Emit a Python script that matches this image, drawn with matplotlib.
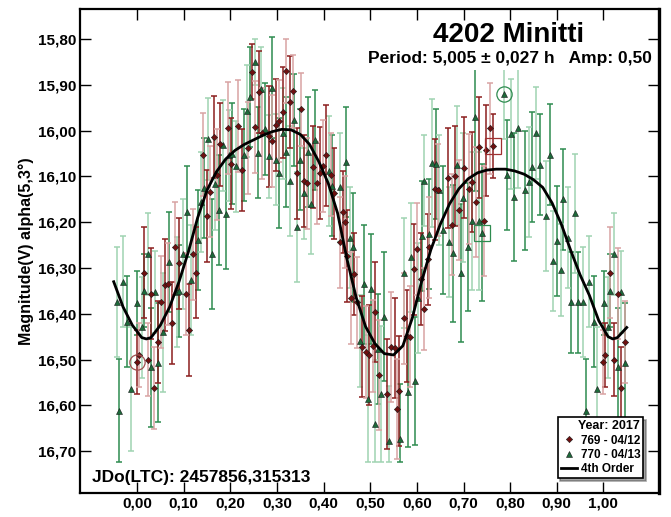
import matplotlib
matplotlib.use("Agg")
import matplotlib.pyplot as plt
import numpy as np
from matplotlib.lines import Line2D

plt.rcParams['font.family'] = ['Liberation Sans', 'DejaVu Sans']
plt.rcParams['font.weight'] = 'bold'

# session 769 - 04/12 (phase, magnitude, error)
red_phase = [0.000, 0.004, 0.015, 0.023, 0.031, 0.037, 0.046, 0.051, 0.059, 0.067,
             0.074, 0.081, 0.091, 0.105, 0.112, 0.121, 0.127, 0.142, 0.149, 0.156,
             0.164, 0.171, 0.178, 0.194, 0.202, 0.217, 0.224, 0.239, 0.246, 0.253,
             0.262, 0.267, 0.283, 0.290, 0.298, 0.305, 0.312, 0.320, 0.327, 0.335,
             0.342, 0.352, 0.357, 0.365, 0.378, 0.386, 0.392, 0.398, 0.406, 0.415,
             0.423, 0.435, 0.442, 0.446, 0.450, 0.459, 0.466, 0.471, 0.483, 0.490,
             0.498, 0.507, 0.510, 0.519, 0.535, 0.544, 0.553, 0.558, 0.562, 0.572,
             0.579, 0.585, 0.593, 0.600, 0.608, 0.615, 0.623, 0.627, 0.638, 0.645,
             0.666, 0.675, 0.682, 0.690, 0.702, 0.712, 0.718, 0.726, 0.733, 0.743,
             0.748, 0.756, 0.764]
red_mag = [16.506, 16.490, 16.310, 16.500, 16.356, 16.562, 16.462, 16.374, 16.337, 16.335,
           16.420, 16.255, 16.290, 16.357, 16.435, 16.270, 16.310, 16.052, 16.186, 16.133,
           16.014, 16.096, 16.030, 15.994, 16.072, 15.990, 16.086, 16.038, 15.871, 15.992,
           15.916, 16.006, 16.012, 16.023, 15.987, 15.979, 15.960, 15.869, 15.937, 15.914,
           16.093, 15.953, 16.110, 16.115, 16.079, 16.114, 16.092, 16.077, 16.054, 16.096,
           16.137, 16.244, 16.177, 16.200, 16.274, 16.366, 16.313, 16.375, 16.472, 16.484,
           16.490, 16.470, 16.396, 16.533, 16.575, 16.473, 16.475, 16.608, 16.569, 16.410,
           16.449, 16.450, 16.303, 16.258, 16.324, 16.390, 16.281, 16.255, 16.128, 16.130,
           16.103, 16.205, 16.099, 16.173, 16.081, 16.128, 16.112, 16.156, 16.036, 16.197,
           16.043, 15.995, 16.034]
red_err = [0.07, 0.07, 0.10, 0.08, 0.10, 0.09, 0.09, 0.10, 0.10, 0.09,
           0.09, 0.10, 0.10, 0.09, 0.10, 0.10, 0.10, 0.09, 0.10, 0.10,
           0.09, 0.10, 0.09, 0.10, 0.10, 0.10, 0.09, 0.10, 0.06, 0.10,
           0.09, 0.10, 0.11, 0.10, 0.10, 0.09, 0.10, 0.07, 0.10, 0.08,
           0.10, 0.08, 0.10, 0.10, 0.09, 0.09, 0.10, 0.10, 0.11, 0.09,
           0.10, 0.10, 0.09, 0.10, 0.10, 0.10, 0.09, 0.10, 0.11, 0.10,
           0.11, 0.10, 0.11, 0.12, 0.12, 0.12, 0.11, 0.11, 0.12, 0.10,
           0.10, 0.11, 0.10, 0.10, 0.10, 0.09, 0.10, 0.11, 0.11, 0.10,
           0.11, 0.11, 0.11, 0.11, 0.11, 0.12, 0.11, 0.12, 0.11, 0.12,
           0.10, 0.10, 0.07]

# session 770 - 04/13
green_phase = [0.001, 0.010, 0.015, 0.023, 0.031, 0.038, 0.046, 0.056, 0.069, 0.085,
               0.090, 0.098, 0.107, 0.115, 0.131, 0.137, 0.144, 0.153, 0.160, 0.167,
               0.175, 0.184, 0.190, 0.197, 0.203, 0.212, 0.230, 0.236, 0.242, 0.252,
               0.259, 0.266, 0.275, 0.282, 0.289, 0.297, 0.305, 0.314, 0.319, 0.327,
               0.336, 0.342, 0.350, 0.359, 0.366, 0.373, 0.381, 0.412, 0.417, 0.435,
               0.448, 0.457, 0.464, 0.479, 0.487, 0.495, 0.502, 0.510, 0.516, 0.524,
               0.530, 0.541, 0.563, 0.572, 0.580, 0.587, 0.595, 0.602, 0.610, 0.616,
               0.625, 0.633, 0.641, 0.648, 0.657, 0.668, 0.678, 0.687, 0.695, 0.698,
               0.709, 0.718, 0.725, 0.733, 0.739, 0.786, 0.794, 0.801, 0.809, 0.816,
               0.832, 0.841, 0.847, 0.855, 0.863, 0.877, 0.886, 0.891, 0.900, 0.909,
               0.914, 0.923, 0.931, 0.939, 0.945, 0.956, 0.962, 0.970, 0.979, 0.986]
green_mag = [16.377, 16.430, 16.350, 16.270, 16.517, 16.352, 16.507, 16.440, 16.287, 16.353,
             16.350, 16.270, 16.177, 16.326, 16.239, 16.156, 16.125, 16.018, 16.270, 16.117,
             16.173, 16.032, 16.183, 16.054, 16.050, 16.078, 16.053, 15.957, 15.926, 15.849,
             16.048, 15.908, 15.996, 16.056, 15.906, 16.063, 16.093, 16.006, 16.047, 16.110,
             15.976, 16.210, 16.063, 16.137, 16.047, 16.160, 16.020, 16.088, 16.120, 16.124,
             16.069, 16.234, 16.255, 16.459, 16.335, 16.587, 16.345, 16.640, 16.477, 16.576,
             16.406, 16.678, 16.673, 16.311, 16.572, 16.277, 16.546, 16.366, 16.230, 16.109,
             16.226, 16.070, 16.072, 16.130, 16.217, 16.244, 16.268, 16.075, 16.311, 16.146,
             16.255, 16.197, 15.971, 16.197, 16.223, 15.919, 16.097, 16.008, 16.144, 15.995,
             16.130, 16.112, 16.079, 16.005, 16.074, 16.186, 16.052, 16.285, 16.241, 16.304,
             16.150, 16.234, 16.375, 16.180, 16.375, 16.375, 16.613, 16.330, 16.417, 16.564]
green_err = [0.07, 0.11, 0.08, 0.09, 0.13, 0.09, 0.13, 0.13, 0.11, 0.12,
             0.10, 0.12, 0.10, 0.12, 0.11, 0.11, 0.11, 0.09, 0.12, 0.10,
             0.12, 0.10, 0.12, 0.10, 0.11, 0.10, 0.10, 0.10, 0.11, 0.05,
             0.10, 0.09, 0.10, 0.09, 0.11, 0.10, 0.12, 0.10, 0.12, 0.12,
             0.10, 0.12, 0.11, 0.10, 0.12, 0.11, 0.11, 0.12, 0.11, 0.12,
             0.12, 0.11, 0.12, 0.10, 0.13, 0.14, 0.12, 0.14, 0.12, 0.15,
             0.14, 0.12, 0.12, 0.12, 0.12, 0.12, 0.14, 0.12, 0.12, 0.10,
             0.12, 0.14, 0.12, 0.12, 0.14, 0.12, 0.15, 0.13, 0.15, 0.14,
             0.14, 0.15, 0.16, 0.15, 0.15, 0.10, 0.12, 0.12, 0.14, 0.13,
             0.13, 0.12, 0.12, 0.10, 0.11, 0.12, 0.11, 0.11, 0.12, 0.10,
             0.11, 0.11, 0.11, 0.13, 0.11, 0.12, 0.115, 0.10, 0.10, 0.135]

# 4th order Fourier fit
fit_phase = [-0.05, -0.03, -0.01, 0.01, 0.02, 0.03, 0.05, 0.07, 0.09, 0.11,
             0.13, 0.15, 0.17, 0.19, 0.21, 0.23, 0.25, 0.27, 0.29, 0.31,
             0.33, 0.35, 0.37, 0.39, 0.41, 0.43, 0.45, 0.47, 0.49, 0.51,
             0.53, 0.55, 0.57, 0.59, 0.61, 0.63, 0.65, 0.67, 0.69, 0.71,
             0.73, 0.75, 0.77, 0.79, 0.81, 0.83, 0.85, 0.87, 0.89, 0.91,
             0.93, 0.95, 0.97, 0.99, 1.01, 1.02, 1.03, 1.05]
fit_mag = [16.330, 16.385, 16.425, 16.452, 16.455, 16.452, 16.425, 16.385, 16.330, 16.265,
           16.190, 16.130, 16.090, 16.062, 16.043, 16.030, 16.020, 16.010, 16.002, 15.997,
           15.998, 16.008, 16.030, 16.068, 16.115, 16.180, 16.280, 16.365, 16.428, 16.465,
           16.487, 16.490, 16.470, 16.410, 16.330, 16.260, 16.205, 16.160, 16.127, 16.105,
           16.092, 16.086, 16.084, 16.084, 16.088, 16.095, 16.107, 16.124, 16.158, 16.205,
           16.262, 16.315, 16.360, 16.415, 16.450, 16.455, 16.452, 16.430]

x_ticks = [0.0, 0.1, 0.2, 0.3, 0.4, 0.5, 0.6, 0.7, 0.8, 0.9, 1.0]
y_ticks = [15.8, 15.9, 16.0, 16.1, 16.2, 16.3, 16.4, 16.5, 16.6, 16.7]

BAR_LIMIT = 16.725  # faint end where the error bars get cut


def wrap(phase, mag, err):
    p = np.array(phase)
    m = np.array(mag)
    e = np.array(err)
    lo = p < 0.05
    hi = p >= 0.95
    p2 = np.concatenate([p, p[lo] + 1, p[hi] - 1])
    m2 = np.concatenate([m, m[lo], m[hi]])
    e2 = np.concatenate([e, e[lo], e[hi]])
    return p2, m2, e2


def draw_series(ax, phase, mag, err, dark, light, marker, face, ms):
    p, m, e = wrap(phase, mag, err)
    down = np.minimum(e, BAR_LIMIT - m)
    for k, col in enumerate([dark, light]):
        sel = np.arange(len(p)) % 2 == k
        ax.errorbar(p[sel], m[sel], yerr=[e[sel], down[sel]], fmt='none',
                    ecolor=col, elinewidth=1.1, capsize=2.5, capthick=1.1, zorder=2)
    ax.plot(p, m, linestyle='none', marker=marker, ms=ms, mfc=face,
            mec='#1a1a1a', mew=0.4, zorder=3)


fig = plt.figure(figsize=(6.71, 5.17), dpi=100)
ax = fig.add_axes([0.1197, 0.047, 0.863, 0.9356])

draw_series(ax, green_phase, green_mag, green_err, '#2e8b4f', '#9fd3b2', '^', '#1d6a3a', 4.5)
draw_series(ax, red_phase, red_mag, red_err, '#8b1e1e', '#d8a3a3', 'D', '#6e1010', 3.2)

ax.plot(fit_phase, fit_mag, color='black', lw=2, zorder=4)

# reference marks
ax.plot([red_phase[0]], [red_mag[0]], 'o', ms=11, mfc='none', mec='#a05050', mew=0.9, zorder=4)
ax.plot([green_phase[85]], [green_mag[85]], 'o', ms=11, mfc='none', mec='#2e8b4f', mew=0.9, zorder=4)
ax.plot([red_phase[-1]], [red_mag[-1]], 's', ms=12, mfc='none', mec='#a03030', mew=0.9, zorder=4)
ax.plot([green_phase[84]], [green_mag[84]], 's', ms=12, mfc='none', mec='#2e8b4f', mew=0.9, zorder=4)

ax.set_xlim(-0.1216, 1.12)
ax.set_ylim(16.791, 15.734)
ax.set_xticks(x_ticks)
ax.set_yticks(y_ticks)
ax.set_xticklabels([f"{v:.2f}".replace('.', ',') for v in x_ticks], fontsize=11, fontweight='bold')
ax.set_yticklabels([f"{v:.2f}".replace('.', ',') for v in y_ticks], fontsize=11, fontweight='bold')
ax.tick_params(direction='in', length=8, width=1, top=True, right=True, pad=3)
for s in ax.spines.values():
    s.set_linewidth(1.6)
ax.spines['right'].set_linewidth(2.4)

ax.set_ylabel('Magnitude(V) alpha(5,3°)', fontsize=11.5, fontweight='bold', labelpad=3)

fig.text(0.758, 0.932, '4202 Minitti', fontsize=20, fontweight='bold', ha='center', va='center',
         zorder=10, bbox=dict(facecolor='white', edgecolor='none', pad=1))
fig.text(0.971, 0.886, 'Period: 5,005 ± 0,027 h   Amp: 0,50', fontsize=12.5, fontweight='bold',
         ha='right', va='center', zorder=10,
         bbox=dict(facecolor='white', edgecolor='none', pad=2.5))
ax.text(0.02, 0.032, 'JDo(LTC): 2457856,315313', transform=ax.transAxes, fontsize=12.5,
        fontweight='bold', ha='left', va='center', zorder=10)

handles = [Line2D([], [], linestyle='none', marker='D', ms=3.2, mfc='#6e1010', mec='#1a1a1a', mew=0.4),
           Line2D([], [], linestyle='none', marker='^', ms=4.5, mfc='#1d6a3a', mec='#1a1a1a', mew=0.4),
           Line2D([], [], color='black', lw=2)]
leg = ax.legend(handles, ['769 - 04/12', '770 - 04/13', '4th Order'], title='Year: 2017',
                loc='lower right', bbox_to_anchor=(0.972, 0.030), fancybox=False, shadow=True,
                framealpha=1, edgecolor='black', prop={'size': 8.5, 'weight': 'bold'},
                title_fontproperties={'size': 9, 'weight': 'bold'}, handlelength=1.4,
                handletextpad=0.3, borderpad=0.25, labelspacing=0.2, borderaxespad=0)
leg._legend_box.align = 'right'
leg.get_frame().set_linewidth(1.2)
leg.set_zorder(11)

fig.savefig('out.png', dpi=100)
